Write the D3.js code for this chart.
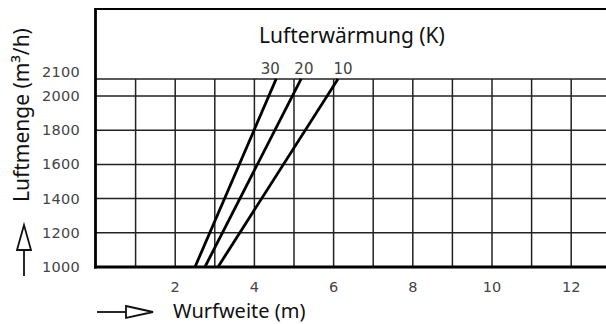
<!DOCTYPE html>
<html><head><meta charset="utf-8">
<script src="https://cdn.jsdelivr.net/npm/d3@7"></script>
<style>body{margin:0;background:#fff}svg{display:block}</style>
</head><body>
<script>
// Data
const seriesNames = ["30", "20", "10"];
const series30 = [{x: 2.50, y: 1000}, {x: 4.55, y: 2100}];
const series20 = [{x: 2.75, y: 1000}, {x: 5.18, y: 2100}];
const series10 = [{x: 3.08, y: 1000}, {x: 6.11, y: 2100}];
const xTicks = [2, 4, 6, 8, 10, 12];
const xGrid = [1,2,3,4,5,6,7,8,9,10,11,12,13];
const yTicks = [1000, 1200, 1400, 1600, 1800, 2000, 2100];
const yGrid = [1200, 1400, 1600, 1800, 2000, 2100];
const titleTop = "Lufterwärmung (K)";
const xTitle = "Wurfweite (m)";
const yTitle = "Luftmenge (m³/h)";

const W = 606, H = 324;
const svg = d3.select("body").append("svg").attr("width", W).attr("height", H);

const x = d3.scaleLinear().domain([0, 13]).range([96, 96 + 13 * 39.6]);
const y = d3.scaleLinear().domain([1000, 2000]).range([267, 96]);

const gridColor = "#222";
// horizontal grid
svg.append("g").selectAll("line").data(yGrid).join("line")
  .attr("x1", x(0)).attr("x2", W)
  .attr("y1", d => y(d)).attr("y2", d => y(d))
  .attr("stroke", gridColor).attr("stroke-width", 1.5);
// vertical grid
svg.append("g").selectAll("line").data(xGrid).join("line")
  .attr("x1", d => x(d)).attr("x2", d => x(d))
  .attr("y1", y(2100)).attr("y2", y(1000))
  .attr("stroke", gridColor).attr("stroke-width", 1.5);

// frame
svg.append("line").attr("x1", x(0) - 1).attr("x2", W).attr("y1", 9).attr("y2", 9)
  .attr("stroke", "#000").attr("stroke-width", 2.2);
svg.append("line").attr("x1", x(0) - 0.5).attr("x2", x(0) - 0.5).attr("y1", 8).attr("y2", y(1000) + 1.5)
  .attr("stroke", "#000").attr("stroke-width", 2.8);
svg.append("line").attr("x1", x(0) - 2).attr("x2", W).attr("y1", y(1000)).attr("y2", y(1000))
  .attr("stroke", "#000").attr("stroke-width", 3);

// series lines
const line = d3.line().x(d => x(d.x)).y(d => y(d.y));
[series30, series20, series10].forEach(s => {
  svg.append("path").attr("d", line(s)).attr("fill", "none")
    .attr("stroke", "#000").attr("stroke-width", 2.8).attr("stroke-linecap", "butt");
});

// series labels
const labelX = [4.4, 5.25, 6.24];
svg.append("g").selectAll("text").data(seriesNames).join("text")
  .attr("x", (d, i) => x(labelX[i])).attr("y", 73.5)
  .attr("text-anchor", "middle")
  .attr("font-family", "DejaVu Sans").attr("font-size", 15)
  .attr("fill", "#444").text(d => d);

// y tick labels
svg.append("g").selectAll("text").data(yTicks).join("text")
  .attr("x", 80).attr("y", d => (d === 2100 ? y(d) - 7 : y(d)))
  .attr("dy", "0.35em")
  .attr("text-anchor", "end")
  .attr("font-family", "DejaVu Sans").attr("font-size", 14.5)
  .attr("letter-spacing", 0.3)
  .attr("fill", "#444").text(d => d);

// x tick labels
svg.append("g").selectAll("text").data(xTicks).join("text")
  .attr("x", d => x(d)).attr("y", 292)
  .attr("text-anchor", "middle")
  .attr("font-family", "DejaVu Sans").attr("font-size", 14.5)
  .attr("fill", "#444").text(d => d);

// titles
svg.append("text").attr("x", 352).attr("y", 43).attr("text-anchor", "middle")
  .attr("font-family", "Noto Sans").attr("font-size", 21).attr("fill", "#111")
  .text(titleTop);
svg.append("text").attr("x", 173).attr("y", 318).attr("text-anchor", "start")
  .attr("font-family", "Noto Sans").attr("font-size", 20).attr("fill", "#111")
  .text(xTitle);
svg.append("text").attr("transform", "translate(29,115) rotate(-90)")
  .attr("text-anchor", "middle")
  .attr("font-family", "Noto Sans").attr("font-size", 21).attr("fill", "#111")
  .text(yTitle);

// arrows
// x arrow
svg.append("line").attr("x1", 97).attr("x2", 126).attr("y1", 312).attr("y2", 312)
  .attr("stroke", "#111").attr("stroke-width", 1.8);
svg.append("path").attr("d", "M126,306 L153,312 L126,318 Z")
  .attr("fill", "#fff").attr("stroke", "#111").attr("stroke-width", 1.8);
// y arrow
svg.append("line").attr("x1", 24).attr("x2", 24).attr("y1", 276).attr("y2", 250)
  .attr("stroke", "#111").attr("stroke-width", 1.8);
svg.append("path").attr("d", "M17,250 L24,225 L31,250 Z")
  .attr("fill", "#fff").attr("stroke", "#111").attr("stroke-width", 1.8);
</script>
</body></html>
